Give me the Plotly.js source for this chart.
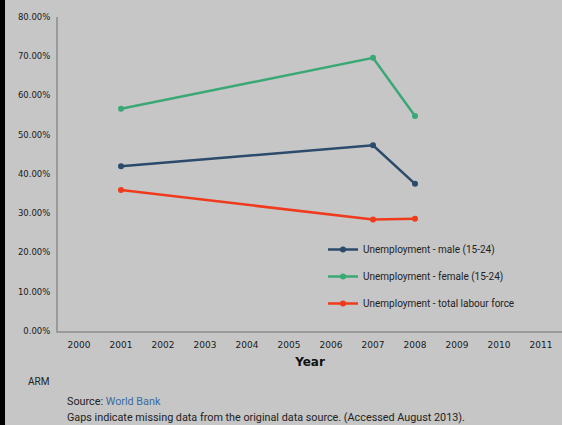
<!DOCTYPE html>
<html>
<head>
<meta charset="utf-8">
<script src="https://cdn.plot.ly/plotly-3.0.1.min.js"></script>
<style>
html,body{margin:0;padding:0;background:#c6c6c6;}
#chart{width:562px;height:425px;}
</style>
</head>
<body>
<div id="chart"></div>
<script>
const years = [2001, 2007, 2008];
const maleValues = [42.0, 47.3, 37.5];
const femaleValues = [56.6, 69.6, 54.8];
const totalValues = [35.9, 28.4, 28.6];
const seriesNames = ["Unemployment - male (15-24)", "Unemployment - female (15-24)", "Unemployment - total labour force"];
const seriesColors = ["#2c4a6b", "#3aa875", "#f03a1c"];
const xTickYears = [2000, 2001, 2002, 2003, 2004, 2005, 2006, 2007, 2008, 2009, 2010, 2011];
const yTickVals = [0, 10, 20, 30, 40, 50, 60, 70, 80];
const yTickText = yTickVals.map(v => v.toFixed(2) + "%");

const seriesValues = [maleValues, femaleValues, totalValues];
const traces = seriesValues.map((vals, i) => ({
  x: years, y: vals, name: seriesNames[i], type: "scatter", mode: "lines+markers",
  legendgroup: "g" + i,
  line: {color: seriesColors[i], width: 2.5},
  marker: {color: seriesColors[i], size: 6}
}));

const L = 58, W = 504;
const layout = {
  width: 562, height: 425,
  paper_bgcolor: "#c6c6c6", plot_bgcolor: "#c6c6c6",
  margin: {l: L, r: 0, t: 17, b: 94},
  font: {family: "Roboto, sans-serif", color: "#222"},
  showlegend: true,
  legend: {x: (323 - L) / W, y: (331 - 235) / 314, xanchor: "left", yanchor: "top", bgcolor: "rgba(0,0,0,0)",
           font: {size: 10, color: "#222", family: "Roboto, sans-serif"},
           traceorder: "grouped", tracegroupgap: 8, itemwidth: 30},
  xaxis: {range: [1999.5, 2011.5], tickvals: xTickYears, ticktext: xTickYears.map(String),
          showgrid: false, zeroline: false, showline: true, linecolor: "#9a9a9a", linewidth: 2,
          ticks: "", ticklabelstandoff: 4, tickfont: {size: 9, family: "DejaVu Sans, sans-serif", color: "#1a1a1a"},
          title: {text: "<b>Year</b>", font: {size: 12, family: "DejaVu Sans, sans-serif", color: "#111"}, standoff: 9}},
  yaxis: {range: [0, 80], tickvals: yTickVals, ticktext: yTickText,
          showgrid: false, zeroline: false, showline: true, linecolor: "#9a9a9a", linewidth: 2,
          ticks: "", ticklabelstandoff: 4, tickfont: {size: 8.5, family: "DejaVu Sans, sans-serif", color: "#1a1a1a"}},
  shapes: [{type: "rect", xref: "paper", yref: "paper", x0: -L / W, x1: -(L - 5) / W, y0: -94 / 314, y1: (314 + 17) / 314,
            fillcolor: "#000", line: {width: 0}}],
  annotations: [
    {text: "ARM", xref: "paper", yref: "paper", x: (38 - L) / W, y: -(381 - 331) / 314, xanchor: "center", yanchor: "middle",
     showarrow: false, font: {size: 10, family: "Roboto, sans-serif", color: "#222"}},
    {text: "Source: <span style='color:#3b6aa0'>World Bank</span>", xref: "paper", yref: "paper",
     x: (65 - L) / W, y: -(401 - 331) / 314, xanchor: "left", yanchor: "middle", showarrow: false,
     font: {size: 10.8, family: "Roboto, sans-serif", color: "#222"}},
    {text: "Gaps indicate missing data from the original data source. (Accessed August 2013).", xref: "paper", yref: "paper",
     x: (65 - L) / W, y: -(417 - 331) / 314, xanchor: "left", yanchor: "middle", showarrow: false,
     font: {size: 10.8, family: "Roboto, sans-serif", color: "#222"}}
  ]
};
Plotly.newPlot("chart", traces, layout, {displayModeBar: false, staticPlot: true});
</script>
</body>
</html>
